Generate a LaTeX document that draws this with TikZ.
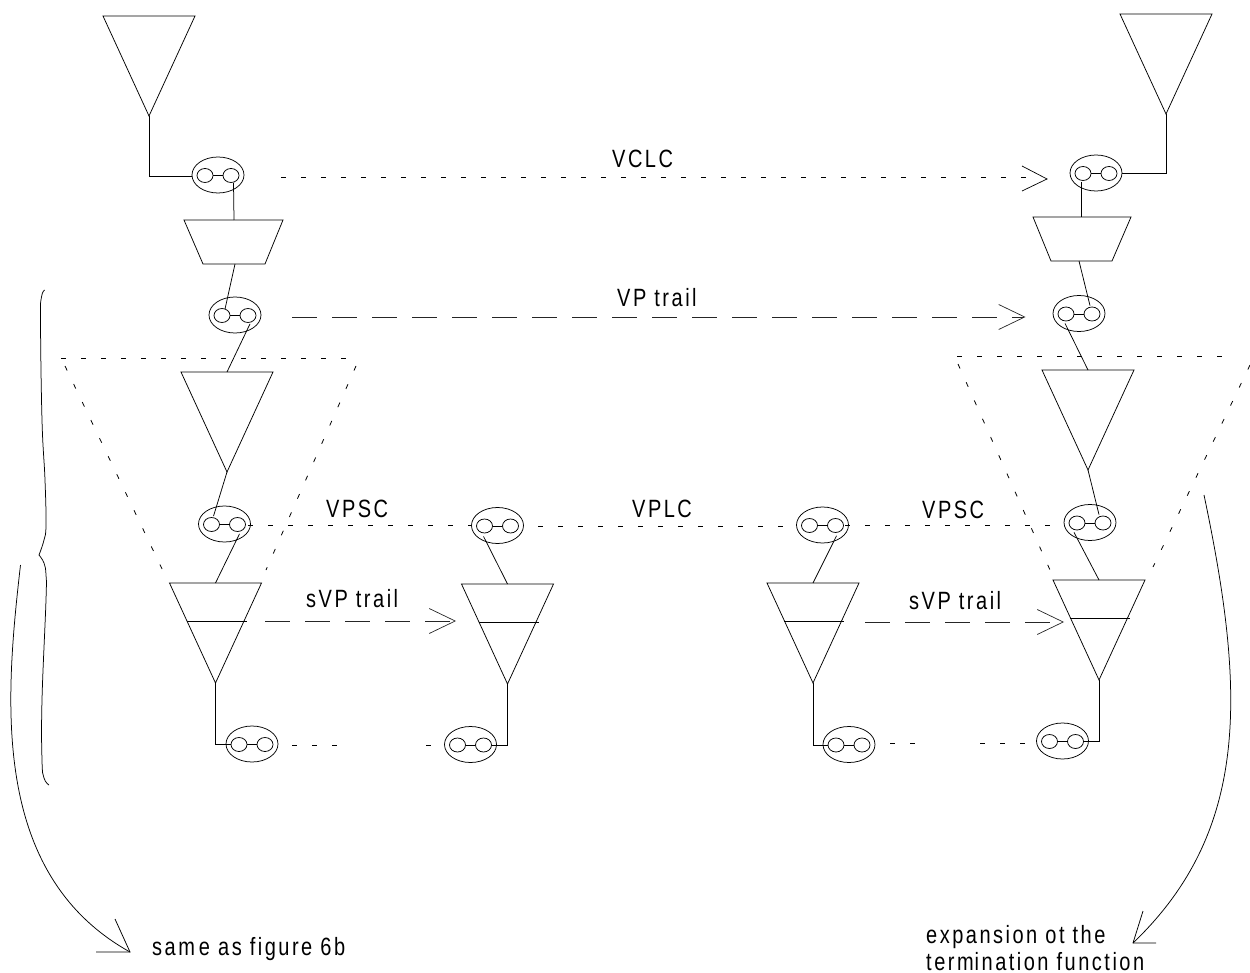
\documentclass[tikz,border=0pt]{standalone}
\usepackage{fontspec}
\usetikzlibrary{arrows.meta,shapes.geometric}
\newfontfamily\lab[LetterSpace=10,FakeStretch=.8]{Liberation Sans}
\newcommand\coupler[3]{%
  \node[outerell] (#1) at (#2,#3) {};
  \node[innerell] (#1a) at (#2-13,#3+.5) {};
  \node[innerell] (#1b) at (#2+13,#3+.5) {};
  \draw[wire] (#1a) -- (#1b);}
\newcommand\tri[3]{%
  \coordinate (#1t) at (#2,#3);
  \coordinate (#1p) at (#2,#3+100);
  \draw[wire] (#2-46,#3) -- (#2+46,#3) -- (#1p) -- cycle;}
\newcommand\stri[3]{%
  \tri{#1}{#2}{#3}
  \coordinate (#1l) at (#2-29,#3+38.5);
  \coordinate (#1r) at (#2+31,#3+38.5);
  \draw[wire] (#1l) -- (#1r);}
\tikzset{
  x=1pt,y=-1pt,
  wire/.style={line width=.75pt,black},
  outerell/.style={draw,line width=.75pt,ellipse,minimum width=52pt,minimum height=36pt,inner sep=0pt},
  innerell/.style={draw,line width=.75pt,ellipse,minimum width=16pt,minimum height=14pt,inner sep=0pt},
  dots/.style={line width=.8pt,black,dash pattern=on 5pt off 15pt},
  longdash/.style={line width=.8pt,black!85,dash pattern=on 25pt off 15pt},
  barb/.style={-{Straight Barb[length=26pt,width=25pt,line width=.7pt]}},
  txt/.style={anchor=base west,inner sep=0pt,font=\lab\fontsize{25}{27}\selectfont},
}
\begin{document}
\begin{tikzpicture}
\useasboundingbox (0,0) rectangle (1250,973);
% left column
\tri{ta}{149}{16}
\coupler{ea}{218}{175}
\coordinate (tza) at (234,220);
\draw[wire] (184,220) -- (283,220) -- (265,264) -- (203,264) -- cycle;
\coordinate (tzab) at (235,264);
\coupler{eb}{235}{315}
\tri{tb}{227}{372}
\coupler{ec}{224.5}{524}
\stri{tc}{215.5}{583}
\coupler{ed}{252}{744}
% middle left
\coupler{ee}{497.5}{525.5}
\stri{td}{507.5}{584}
\coupler{ef}{470.5}{744.5}
% middle right
\coupler{eg}{822.5}{525}
\stri{te}{813}{583}
\coupler{eh}{849}{744.5}
% right column
\tri{tf}{1166}{14}
\coupler{ei}{1096}{173}
\coordinate (tzb) at (1081,217);
\draw[wire] (1033,217) -- (1131,217) -- (1112,261) -- (1051,261) -- cycle;
\coordinate (tzbb) at (1079,261);
\coupler{ej}{1079}{313.5}
\tri{tg}{1088}{370}
\coupler{ek}{1090}{522.5}
\stri{th}{1099}{580}
\coupler{el}{1062.5}{741}
% solid connectors
\draw[wire] (tap) |- (ea.west|-0,176);
\draw[wire] ([xshift=2.5pt]eab.south) -- (tza);
\draw[wire] (tzab) -- ([xshift=3pt,yshift=-1pt]eba.north);
\draw[wire] ([xshift=2pt,yshift=-1pt]ebb.south) -- (tbt);
\draw[wire] (tbp) -- ([xshift=2pt,yshift=1pt]eca.north);
\draw[wire] ([xshift=2pt,yshift=-2pt]ecb.south) -- (tct);
\draw[wire] (tcp) |- (eda.west);
\draw[wire] ([xshift=-1pt,yshift=-3pt]eea.south) -- (tdt);
\draw[wire] (tdp) |- (efb.east);
\draw[wire] ([xshift=1pt,yshift=-3pt]egb.south) -- (tet);
\draw[wire] (tep) |- (eha.west);
\draw[wire] (tfp) |- (ei.east);
\draw[wire] ([xshift=-2pt,yshift=-1pt]eia.south) -- (tzb);
\draw[wire] (tzbb) -- ([xshift=-2pt,yshift=1pt]ejb.north);
\draw[wire] ([xshift=-1pt,yshift=-2pt]eja.south) -- (tgt);
\draw[wire] (tgp) -- ([xshift=-4pt,yshift=1pt]ekb.north);
\draw[wire] ([xshift=-3pt,yshift=-2pt]eka.south) -- (tht);
\draw[wire] (thp) |- (elb.east);
% trails
\coordinate (vclcs) at (281,177);
\coordinate (vclce) at (1047,179);
\draw[dots] (vclcs) -- (1030,177);
\draw[wire,line width=.7pt] (1022,166) -- (vclce) -- (1022,191);
\coordinate (vps) at (292,317);
\coordinate (vpe) at (1025.5,317);
\draw[longdash,barb] (vps) -- (vpe);
\coordinate (svas) at (265,621);
\coordinate (svae) at (456,621);
\draw[longdash,barb] (svas) -- (svae);
\coordinate (svbs) at (865,622);
\coordinate (svbe) at (1064,622);
\draw[longdash,barb] (svbs) -- (svbe);
% dotted connectors
\coordinate (psa) at (248,525);
\draw[dots] (psa) -- (psa -| ee.west);
\coordinate (plc) at (538,526);
\draw[dots] (plc) -- (plc -| eg.west);
\coordinate (psb) at (845,525);
\draw[dots] (psb) -- (psb -| ek.west);
\coordinate (da) at (292,745.5);
\coordinate (db) at (337,745.5);
\draw[dots] (da) -- (db);
\coordinate (dc) at (426,745.5);
\draw[dots] (dc) -- (dc -| ef.west);
\coordinate (dd) at (890,743.5);
\coordinate (de) at (915,743.5);
\draw[dots] (dd) -- (de);
\coordinate (df) at (980,743.5);
\draw[dots] (df) -- (df -| el.west);
% dotted cones
\draw[dots] (61,358) -- (358,358);
\draw[dots] (65,366) -- (164,573);
\draw[dots] (356,366) -- (266,570);
\draw[dots] (957,356) -- (1236,356);
\draw[dots] (958,364) -- (1050,570);
\draw[dots] (1250,365) -- (1153,567);
% brace
\draw[wire] plot[smooth,tension=.7] coordinates {(44.5,290) (41.5,297) (40.5,320) (42,420) (45,480) (46,525) (44,540) (39,555)};
\draw[wire] plot[smooth,tension=.7] coordinates {(39,555) (44,563) (46,575) (46,600) (42,700) (42,760) (44,778) (49,785)};
% large curved arrows
\coordinate (cla) at (20.5,565);
\coordinate (clt) at (130,952);
\draw[wire] (cla) .. controls (5,700) and (-10,874) .. (clt);
\draw[wire] (115,919) -- (clt) -- (96,952);
\coordinate (cra) at (1204,495);
\coordinate (crt) at (1133,943);
\draw[wire] (cra) .. controls (1245,690) and (1251,830) .. (crt);
\draw[wire] (1143,911) -- (crt) -- (1156,943);
% labels
\node[txt] (lvclc) at (612,168) {VCLC};
\node[txt] (lvp) at (617,307) {VP trail};
\node[txt] (lpsa) at (326,517.5) {VPSC};
\node[txt] (lplc) at (632,517) {VPLC};
\node[txt] (lpsb) at (922,518.5) {VPSC};
\node[txt] (lsa) at (306,607) {sVP trail};
\node[txt] (lsb) at (909,609) {sVP trail};
\node[txt] (lsame) at (152,955) {sam\kern4pt e as figure 6b};
\node[txt] (lexa) at (926,943) {expansion ot the};
\node[txt] (lexb) at (926,970) {term\kern1pt ination function};
\end{tikzpicture}
\end{document}
